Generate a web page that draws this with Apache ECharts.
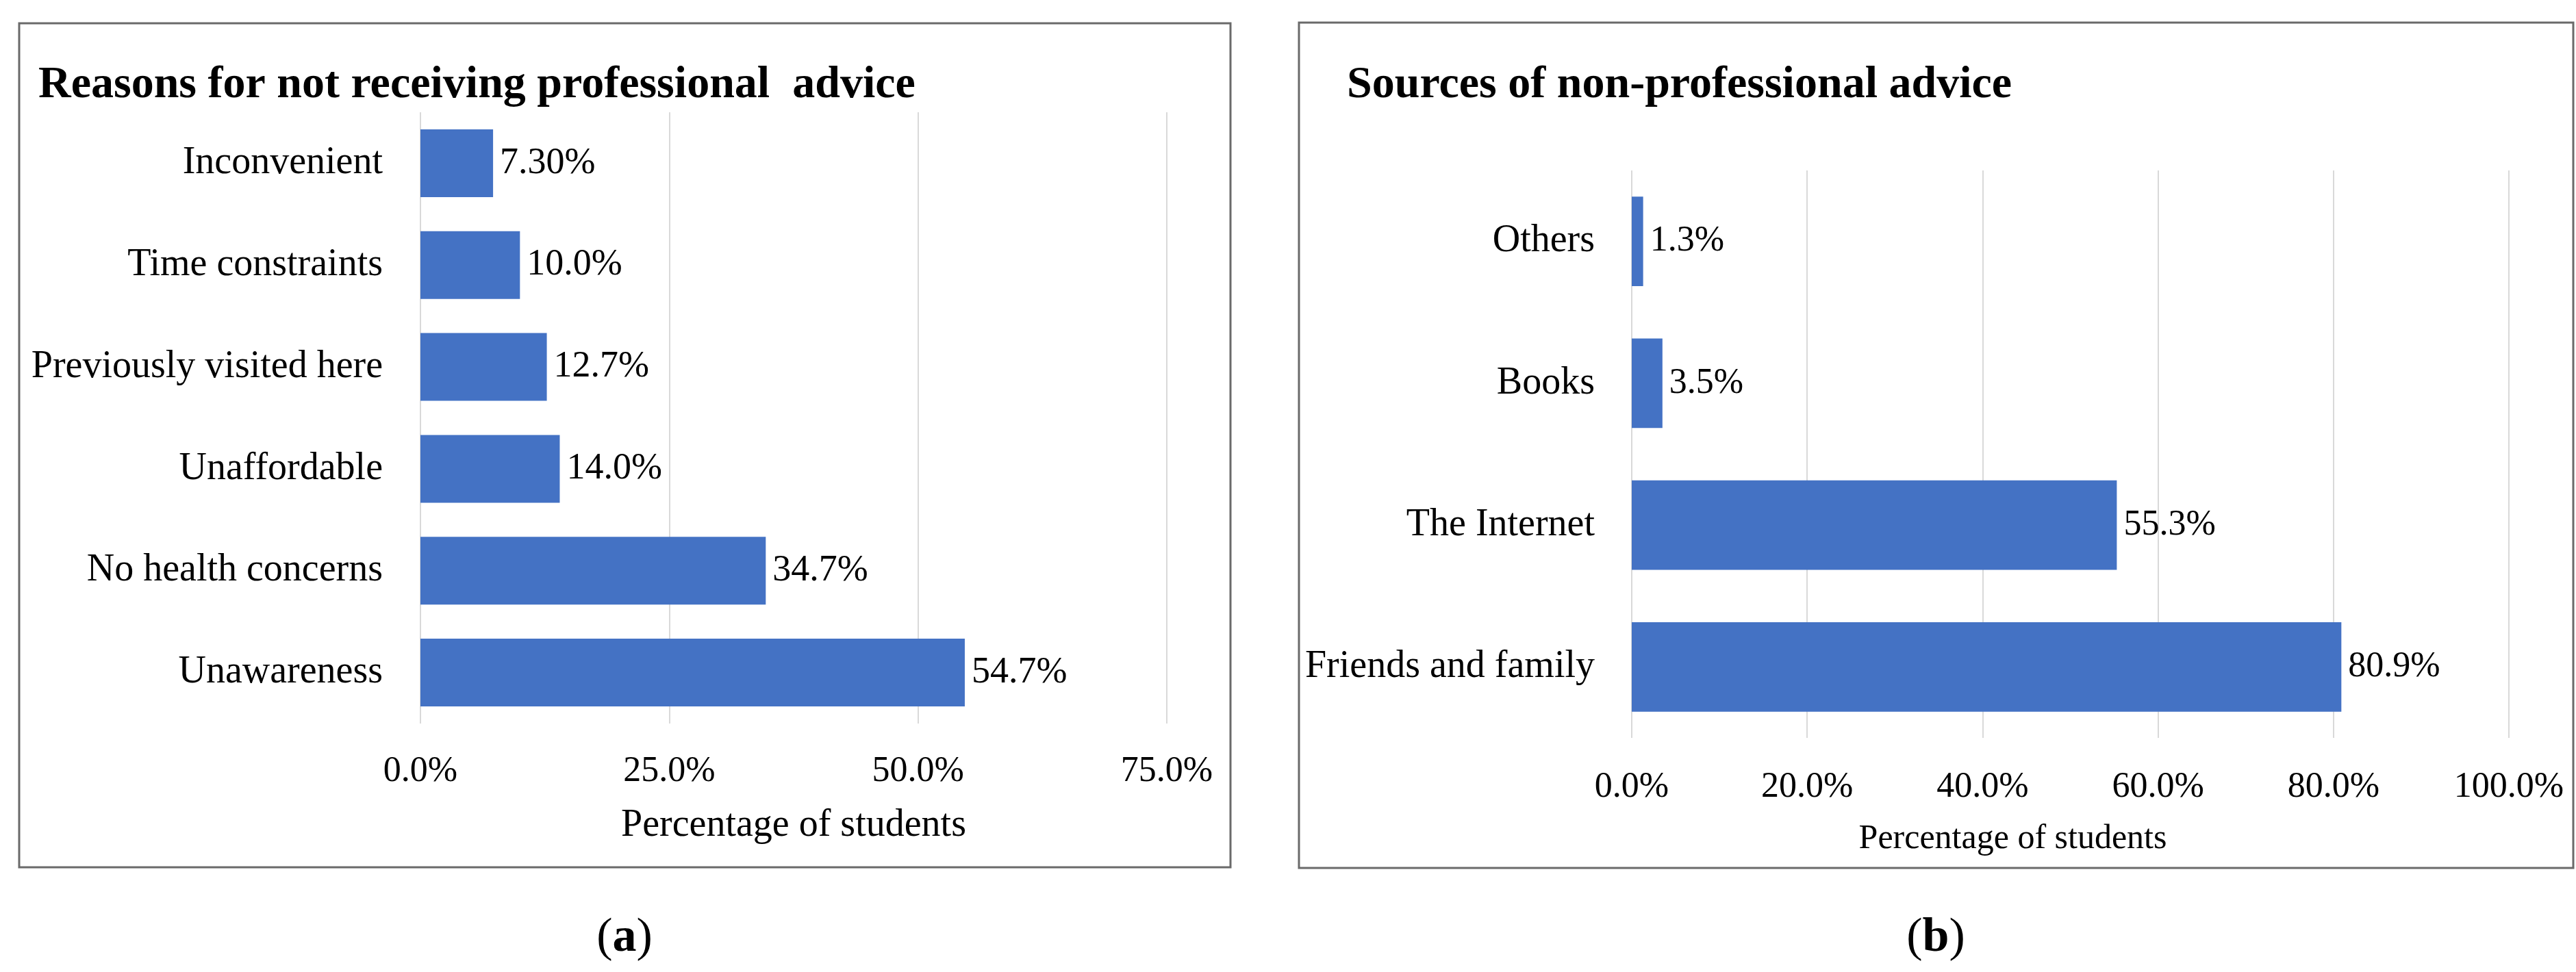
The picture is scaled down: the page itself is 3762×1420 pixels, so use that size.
<!DOCTYPE html>
<html>
<head>
<meta charset="utf-8">
<script src="https://cdn.jsdelivr.net/npm/echarts@6/dist/echarts.min.js"></script>
<style>
html,body{margin:0;padding:0;background:#fff;}
#chart{width:3762px;height:1420px;}
</style>
</head>
<body>
<div id="chart"></div>
<script>
// Panel (a): Reasons for not receiving professional advice (listed bottom to top)
const reasonCategories = ['Unawareness', 'No health concerns', 'Unaffordable', 'Previously visited here', 'Time constraints', 'Inconvenient'];
const reasonValues = [54.7, 34.7, 14.0, 12.7, 10.0, 7.3];
const reasonLabels = ['54.7%', '34.7%', '14.0%', '12.7%', '10.0%', '7.30%'];
const reasonTicks = [0, 25, 50, 75];

// Panel (b): Sources of non-professional advice (listed bottom to top)
const sourceCategories = ['Friends and family', 'The Internet', 'Books', 'Others'];
const sourceValues = [80.9, 55.3, 3.5, 1.3];
const sourceLabels = ['80.9%', '55.3%', '3.5%', '1.3%'];
const sourceTicks = [0, 20, 40, 60, 80, 100];

const titleA = 'Reasons for not receiving professional  advice';
const titleB = 'Sources of non-professional advice';
const axisNameText = 'Percentage of students';

const FONT = '"Liberation Serif", "Times New Roman", serif';
const BAR = '#4472C4';
const GRID = '#d9d9d9';

const chart = echarts.init(document.getElementById('chart'), null, {renderer: 'canvas'});

function pctFmt(v) { return v.toFixed(1) + '%'; }

const option = {
  backgroundColor: '#ffffff',
  animation: false,
  textStyle: {fontFamily: FONT},
  title: [
    {text: titleA, left: 56, top: 92, padding: 0,
     textStyle: {fontFamily: FONT, fontSize: 66, fontWeight: 'bold', color: '#000'}},
    {text: titleB, left: 1967, top: 92, padding: 0,
     textStyle: {fontFamily: FONT, fontSize: 66, fontWeight: 'bold', color: '#000'}}
  ],
  grid: [
    {left: 614, top: 164, width: 1090, height: 893, containLabel: false},
    {left: 2383, top: 249, width: 1281, height: 829, containLabel: false}
  ],
  xAxis: [
    {type: 'value', gridIndex: 0, min: reasonTicks[0], max: reasonTicks[reasonTicks.length - 1], interval: 25,
     axisLine: {show: false}, axisTick: {show: false},
     splitLine: {show: true, lineStyle: {color: GRID, width: 2}},
     axisLabel: {formatter: pctFmt, fontFamily: FONT, fontSize: 52, color: '#000', margin: 44},
     name: axisNameText, nameLocation: 'middle', nameGap: 121,
     nameTextStyle: {fontFamily: FONT, fontSize: 56, color: '#000'}},
    {type: 'value', gridIndex: 1, min: sourceTicks[0], max: sourceTicks[sourceTicks.length - 1], interval: 20,
     axisLine: {show: false}, axisTick: {show: false},
     splitLine: {show: true, lineStyle: {color: GRID, width: 2}},
     axisLabel: {formatter: pctFmt, fontFamily: FONT, fontSize: 52, color: '#000', margin: 46},
     name: axisNameText, nameLocation: 'middle', nameGap: 123,
     nameTextStyle: {fontFamily: FONT, fontSize: 50, color: '#000', padding: [0, 168, 0, 0]}}
  ],
  yAxis: [
    {type: 'category', gridIndex: 0, data: reasonCategories,
     axisLine: {show: false}, axisTick: {show: false}, splitLine: {show: false},
     axisLabel: {fontFamily: FONT, fontSize: 56, color: '#000', margin: 55}},
    {type: 'category', gridIndex: 1, data: sourceCategories,
     axisLine: {show: false}, axisTick: {show: false}, splitLine: {show: false},
     axisLabel: {fontFamily: FONT, fontSize: 56, color: '#000', margin: 54}}
  ],
  series: [
    {type: 'bar', xAxisIndex: 0, yAxisIndex: 0, data: reasonValues,
     barCategoryGap: '33.5%', itemStyle: {color: BAR},
     label: {show: true, position: 'right', distance: 10, fontFamily: FONT, fontSize: 54, color: '#000',
             formatter: p => reasonLabels[p.dataIndex]}},
    {type: 'bar', xAxisIndex: 1, yAxisIndex: 1, data: sourceValues,
     barCategoryGap: '37%', itemStyle: {color: BAR},
     label: {show: true, position: 'right', distance: 10, fontFamily: FONT, fontSize: 52, color: '#000',
             formatter: p => sourceLabels[p.dataIndex]}}
  ],
  graphic: [
    {type: 'rect', shape: {x: 28, y: 34, width: 1769, height: 1233}, z: -1,
     style: {fill: 'none', stroke: '#6a6a6a', lineWidth: 3}},
    {type: 'rect', shape: {x: 1897, y: 33, width: 1861, height: 1235}, z: -1,
     style: {fill: 'none', stroke: '#6a6a6a', lineWidth: 3}},
    {type: 'text', x: 912, y: 1371,
     style: {text: '{n|(}{b|a}{n|)}', align: 'center', verticalAlign: 'middle',
             rich: {n: {fontFamily: FONT, fontSize: 70, color: '#000'},
                    b: {fontFamily: FONT, fontSize: 70, fontWeight: 'bold', color: '#000'}}}},
    {type: 'text', x: 2827, y: 1371,
     style: {text: '{n|(}{b|b}{n|)}', align: 'center', verticalAlign: 'middle',
             rich: {n: {fontFamily: FONT, fontSize: 70, color: '#000'},
                    b: {fontFamily: FONT, fontSize: 70, fontWeight: 'bold', color: '#000'}}}}
  ]
};
chart.setOption(option);
</script>
</body>
</html>
